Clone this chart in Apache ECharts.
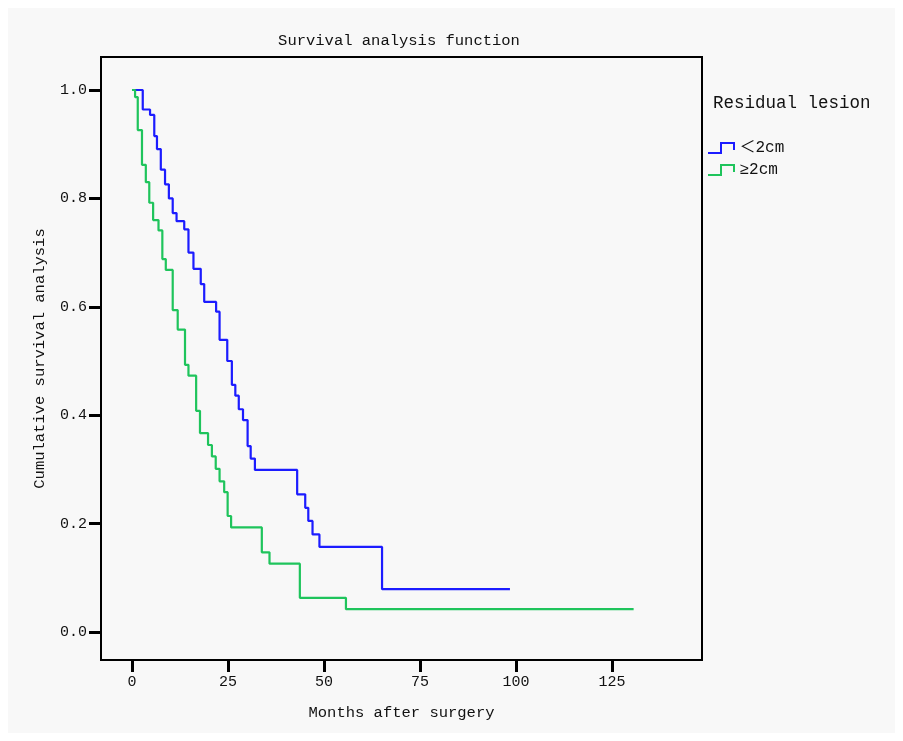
<!DOCTYPE html>
<html>
<head>
<meta charset="utf-8">
<script src="https://cdn.jsdelivr.net/npm/echarts@6/dist/echarts.min.js"></script>
<style>
html,body{margin:0;padding:0;background:#ffffff;}
#chart{width:903px;height:741px;}
</style>
</head>
<body>
<div id="chart"></div>
<script>
// ---- data ----
const blueTimes = [0, 2.8, 4.7, 5.8, 6.5, 7.5, 8.6, 9.6, 10.6, 11.6, 13.6, 14.7, 16.0, 17.9, 18.8, 21.9, 22.8, 24.8, 26.0, 26.9, 27.8, 28.9, 30.1, 30.9, 32.0, 43.0, 45.1, 45.9, 47.0, 48.8, 65.1];
const blueSurv  = [1.0, 0.964, 0.954, 0.915, 0.891, 0.853, 0.826, 0.800, 0.773, 0.758, 0.743, 0.700, 0.670, 0.642, 0.609, 0.591, 0.539, 0.500, 0.456, 0.436, 0.411, 0.391, 0.343, 0.320, 0.299, 0.254, 0.229, 0.205, 0.180, 0.157, 0.079];
const blueEnd = 98.4;

const greenTimes = [0, 0.8, 1.5, 2.6, 3.6, 4.5, 5.5, 6.9, 7.9, 8.8, 10.6, 11.9, 13.8, 14.7, 16.7, 17.7, 19.8, 20.8, 21.8, 22.8, 24.0, 24.9, 25.8, 33.8, 35.8, 43.7, 55.7];
const greenSurv  = [1.0, 0.987, 0.926, 0.862, 0.830, 0.792, 0.760, 0.741, 0.688, 0.668, 0.594, 0.558, 0.493, 0.473, 0.408, 0.367, 0.345, 0.324, 0.301, 0.278, 0.258, 0.214, 0.193, 0.147, 0.126, 0.063, 0.042];
const greenEnd = 130.6;

const seriesNames = ['＜2cm', '≥2cm'];
const xTicks = [0, 25, 50, 75, 100, 125];
const yTicks = [0, 0.2, 0.4, 0.6, 0.8, 1.0];

function kmData(times, surv, endT) {
  const d = times.map((t, i) => [t, surv[i]]);
  d.push([endT, surv[surv.length - 1]]);
  return d;
}

const FONT = '"Liberation Mono", "Noto Sans CJK SC", monospace';
const BLUE = '#1c1cff';
const GREEN = '#1fc45c';

const chart = echarts.init(document.getElementById('chart'), null, {renderer: 'canvas'});
chart.setOption({
  backgroundColor: '#ffffff',
  animation: false,
  graphic: [{
    type: 'rect', z: -10, silent: true,
    shape: {x: 8, y: 8, width: 887, height: 725},
    style: {fill: '#f8f8f8'}
  }],
  title: [{
    text: 'Survival analysis function',
    left: 394, top: 28, textAlign: 'center',
    textStyle: {fontFamily: FONT, fontSize: 15.5, fontWeight: 'normal', color: '#111'}
  }, {
    text: 'Residual lesion',
    left: 708, top: 90,
    textStyle: {fontFamily: FONT, fontSize: 17.5, fontWeight: 'normal', color: '#111'}
  }],
  legend: {
    orient: 'vertical',
    left: 702, top: 135,
    itemWidth: 27, itemHeight: 10, itemGap: 6,
    textStyle: {fontFamily: FONT, fontSize: 16, color: '#111'},
    data: [
      {name: seriesNames[0], icon: 'path://M0,10 L13,10 L13,0 L26,0 L26,7',
       itemStyle: {color: 'transparent', borderColor: BLUE, borderWidth: 2}},
      {name: seriesNames[1], icon: 'path://M0,10 L13,10 L13,0 L26,0 L26,7',
       itemStyle: {color: 'transparent', borderColor: GREEN, borderWidth: 2}}
    ]
  },
  grid: {
    left: 101, right: 201, top: 57, bottom: 81,
    show: true, borderColor: '#000', borderWidth: 2, backgroundColor: 'transparent'
  },
  xAxis: {
    type: 'value',
    min: -8.07, max: 148.4,
    name: 'Months after surgery',
    nameLocation: 'middle', nameGap: 45,
    nameTextStyle: {fontFamily: FONT, fontSize: 15.5, color: '#111'},
    axisLine: {show: true, onZero: false, lineStyle: {color: '#000', width: 2}},
    axisTick: {show: true, inside: false, length: 12, customValues: xTicks, lineStyle: {color: '#000', width: 3}},
    axisLabel: {customValues: xTicks, margin: 15, fontFamily: FONT, fontSize: 15, color: '#111'},
    splitLine: {show: false}
  },
  yAxis: {
    type: 'value',
    min: -0.0517, max: 1.0609,
    name: 'Cumulative survival analysis',
    nameLocation: 'middle', nameGap: 53, nameRotate: 90,
    nameTextStyle: {fontFamily: FONT, fontSize: 15.5, color: '#111'},
    axisLine: {show: true, onZero: false, lineStyle: {color: '#000', width: 2}},
    axisTick: {show: true, inside: false, length: 12, customValues: yTicks, lineStyle: {color: '#000', width: 3}},
    axisLabel: {customValues: yTicks, margin: 14, fontFamily: FONT, fontSize: 15, color: '#111',
      formatter: v => v.toFixed(1)},
    splitLine: {show: false}
  },
  series: [{
    name: seriesNames[0], type: 'line', step: 'end', symbol: 'none',
    lineStyle: {color: BLUE, width: 2.2}, itemStyle: {color: BLUE},
    data: kmData(blueTimes, blueSurv, blueEnd)
  }, {
    name: seriesNames[1], type: 'line', step: 'end', symbol: 'none',
    lineStyle: {color: GREEN, width: 2.2}, itemStyle: {color: GREEN},
    data: kmData(greenTimes, greenSurv, greenEnd)
  }]
});
</script>
</body>
</html>
